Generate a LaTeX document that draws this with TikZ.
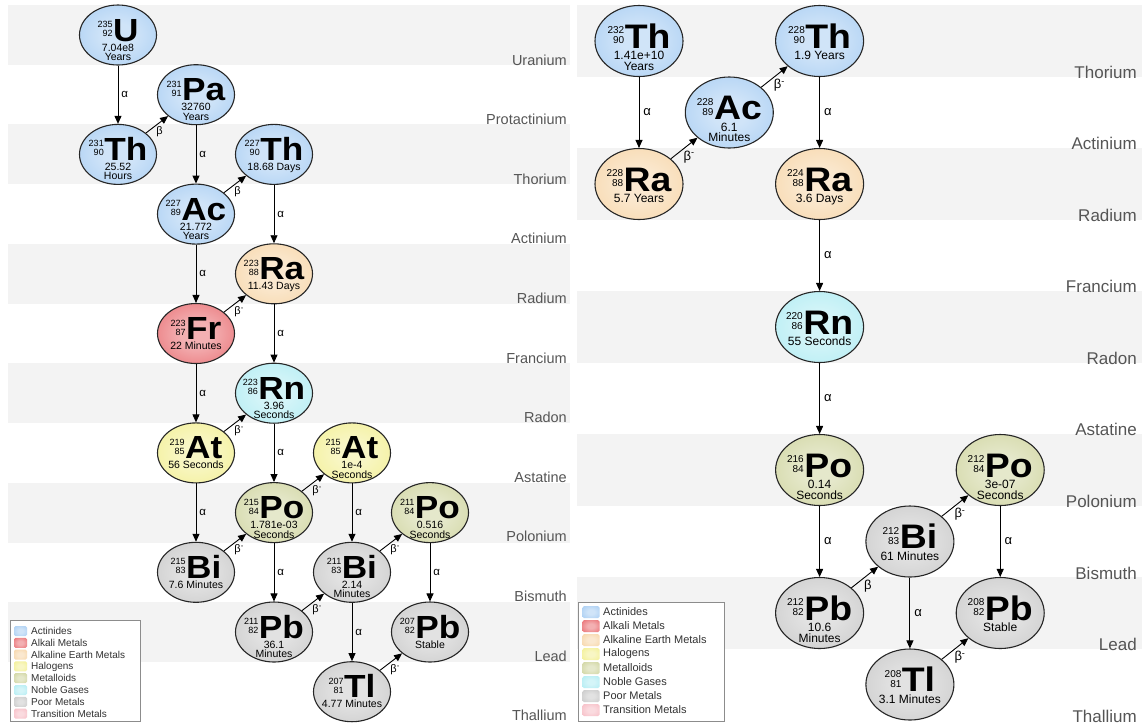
\documentclass[tikz,border=0pt]{standalone}
\usepackage{fontspec}
\setmainfont{Liberation Sans}
\usepackage{graphicx}
\usetikzlibrary{shapes.geometric,arrows.meta}

\definecolor{cActin}{RGB}{150,195,240}
\definecolor{cAlkali}{RGB}{228,80,85}
\definecolor{cAlkEarth}{RGB}{245,205,150}
\definecolor{cHalo}{RGB}{240,236,125}
\definecolor{cMetal}{RGB}{198,204,140}
\definecolor{cNoble}{RGB}{160,232,240}
\definecolor{cPoor}{RGB}{190,190,190}
\definecolor{cTrans}{RGB}{245,175,185}
\definecolor{labgray}{RGB}{85,85,85}
\definecolor{legtext}{RGB}{50,50,50}
\definecolor{bandgray}{RGB}{243,243,243}

\colorlet{isoin}{white}
\colorlet{isoout}{gray}
\pgfdeclareradialshading[isoin,isoout]{isoshade}{\pgfpoint{0bp}{0bp}}{color(0bp)=(isoin); color(10bp)=(isoin); color(50bp)=(isoout)}

\newlength\nucraise
\newcommand\nuc[3]{\raisebox{\nucraise}{\lineskiplimit=0pt\lineskip=1pt\numf\begin{tabular}[b]{@{}r@{}}#1\\#2\end{tabular}}\kern0.5pt\scalebox{1.1}[1]{\symf #3}}
\newcommand\isobox[4]{\makebox[0pt]{\raisebox{0pt}[\isoH][0pt]{\vtop{\baselineskip=\isoB\relax\lineskiplimit=-40pt\lineskip=0pt\halign{\hfil##\hfil\cr\nuc{#1}{#2}{#3}\cr\noalign{\kern\isoG}#4\cr}}}}}
\newcommand\setL{\fontsize{10.5}{10.5}\selectfont\def\symf{\fontsize{32}{32}\selectfont\bfseries}\def\numf{\fontsize{9}{9}\selectfont}\setlength\nucraise{4.5pt}\def\isoH{12pt}\def\isoB{9.5pt}\def\isoG{0.5pt}}
\newcommand\setR{\fontsize{12}{12}\selectfont\def\symf{\fontsize{34}{34}\selectfont\bfseries}\def\numf{\fontsize{10}{10}\selectfont}\setlength\nucraise{4.5pt}\def\isoH{14pt}\def\isoB{10.5pt}\def\isoG{1pt}}
\newcommand\bm{β\textsuperscript{-}}

\begin{document}
\begin{tikzpicture}[x=1pt,y=-1pt,
  iso/.style={ellipse, draw=black!85, line width=1.1pt, inner sep=0pt, shade, shading=isoshade},
  isoL/.style={iso, minimum width=77pt, minimum height=60pt, font=\setL},
  isoR/.style={iso, minimum width=88pt, minimum height=71pt, font=\setR},
  cat/.style={/utils/exec={\colorlet{isoin}{#1!45!white}\colorlet{isoout}{#1}}},
  arr/.style={draw=black, line width=0.9pt, -{Triangle[length=8pt,width=7pt]}},
  aL/.style={midway, right, inner sep=3pt, font=\fontsize{11.5}{12}\selectfont},
  bL/.style={midway, anchor=north west, inner sep=0pt, xshift=-1pt, yshift=-2pt, font=\fontsize{11}{12}\selectfont},
  aR/.style={midway, right, inner sep=4pt, font=\fontsize{13}{14}\selectfont},
  bR/.style={midway, anchor=north west, inner sep=0pt, xshift=-1pt, yshift=-2pt, font=\fontsize{13}{14}\selectfont},
  elabL/.style={anchor=east, inner sep=0pt, text=labgray, font=\fontsize{14.5}{15}\selectfont},
  elabR/.style={anchor=east, inner sep=0pt, text=labgray, font=\fontsize{17}{18}\selectfont},
  swatch/.style={rounded corners=1.5pt, inner sep=0pt, shade, shading=isoshade},
  legbox/.style={draw=black!45, fill=white, line width=0.6pt, anchor=north west, inner sep=0pt},
  legL/.style={anchor=west, inner sep=0pt, text=legtext, font=\fontsize{10}{10}\selectfont},
  legR/.style={anchor=west, inner sep=0pt, text=legtext, font=\fontsize{11}{11}\selectfont}
]
\useasboundingbox (0,0) rectangle (1142,724);
\fill[white] (0,0) rectangle (1142,724);

% background bands
\foreach \r in {0,2,4,6,8,10}
  \fill[bandgray] (8,{5+59.7*\r}) rectangle (570,{65+59.7*\r});
\foreach \r in {0,2,4,6,8}
  \fill[bandgray] (577,{5.25+71.5*\r}) rectangle (1142,{76.75+71.5*\r});

% row labels
\foreach \n [count=\i from 0] in {Uranium,Protactinium,Thorium,Actinium,Radium,Francium,Radon,Astatine,Polonium,Bismuth,Lead,Thallium}
  \node[elabL] (L\n) at (567,{60+59.6*\i}) {\n};
\foreach \n [count=\i from 0] in {Thorium,Actinium,Radium,Francium,Radon,Astatine,Polonium,Bismuth,Lead,Thallium}
  \node[elabR] (R\n) at (1137,{72+71.56*\i}) {\n};

% ---------- left chain (U-235) ----------
\node[isoL, cat=cActin] (U235) at (118,35) {\isobox{235}{92}{U}{7.04e8\cr Years}};
\node[isoL, cat=cActin] (Pa231) at (196,94.7) {\isobox{231}{91}{Pa}{32760\cr Years}};
\node[isoL, cat=cActin] (Th231) at (118,154.4) {\isobox{231}{90}{Th}{25.52\cr Hours}};
\node[isoL, cat=cActin] (Th227) at (274,154.4) {\isobox{227}{90}{Th}{18.68 Days}};
\node[isoL, cat=cActin] (Ac227) at (196,214.1) {\isobox{227}{89}{Ac}{21.772\cr Years}};
\node[isoL, cat=cAlkEarth] (Ra223) at (274,273.8) {\isobox{223}{88}{Ra}{11.43 Days}};
\node[isoL, cat=cAlkali] (Fr223) at (196,333.5) {\isobox{223}{87}{Fr}{22 Minutes}};
\node[isoL, cat=cNoble] (Rn223) at (274,393.2) {\isobox{223}{86}{Rn}{3.96\cr Seconds}};
\node[isoL, cat=cHalo] (At219) at (196,452.9) {\isobox{219}{85}{At}{56 Seconds}};
\node[isoL, cat=cHalo] (At215) at (352,452.9) {\isobox{215}{85}{At}{1e-4\cr Seconds}};
\node[isoL, cat=cMetal] (Po215) at (274,512.6) {\isobox{215}{84}{Po}{1.781e-03\cr Seconds}};
\node[isoL, cat=cMetal] (Po211) at (430,512.6) {\isobox{211}{84}{Po}{0.516\cr Seconds}};
\node[isoL, cat=cPoor] (Bi215) at (196,572.3) {\isobox{215}{83}{Bi}{7.6 Minutes}};
\node[isoL, cat=cPoor] (Bi211) at (352,572.3) {\isobox{211}{83}{Bi}{2.14\cr Minutes}};
\node[isoL, cat=cPoor] (Pb211) at (274,632) {\isobox{211}{82}{Pb}{36.1\cr Minutes}};
\node[isoL, cat=cPoor] (Pb207) at (430,632) {\isobox{207}{82}{Pb}{Stable}};
\node[isoL, cat=cPoor] (Tl207) at (352,691.7) {\isobox{207}{81}{Tl}{4.77 Minutes}};

\draw[arr] (U235) -- node[aL]{α} (Th231);
\draw[arr] (Pa231) -- node[aL]{α} (Ac227);
\draw[arr] (Th227) -- node[aL]{α} (Ra223);
\draw[arr] (Ac227) -- node[aL]{α} (Fr223);
\draw[arr] (Ra223) -- node[aL]{α} (Rn223);
\draw[arr] (Fr223) -- node[aL]{α} (At219);
\draw[arr] (Rn223) -- node[aL]{α} (Po215);
\draw[arr] (At219) -- node[aL]{α} (Bi215);
\draw[arr] (At215) -- node[aL]{α} (Bi211);
\draw[arr] (Po215) -- node[aL]{α} (Pb211);
\draw[arr] (Po211) -- node[aL]{α} (Pb207);
\draw[arr] (Bi211) -- node[aL]{α} (Tl207);

\draw[arr] (Th231) -- node[bL]{β} (Pa231);
\draw[arr] (Ac227) -- node[bL]{β} (Th227);
\draw[arr] (Fr223) -- node[bL]{\bm} (Ra223);
\draw[arr] (At219) -- node[bL]{\bm} (Rn223);
\draw[arr] (Po215) -- node[bL]{\bm} (At215);
\draw[arr] (Bi215) -- node[bL]{\bm} (Po215);
\draw[arr] (Pb211) -- node[bL]{\bm} (Bi211);
\draw[arr] (Bi211) -- node[bL]{\bm} (Po211);
\draw[arr] (Tl207) -- node[bL]{\bm} (Pb207);

% ---------- right chain (Th-232) ----------
\node[isoR, cat=cActin] (Th232) at (639,41) {\isobox{232}{90}{Th}{1.41e+10\cr Years}};
\node[isoR, cat=cActin] (Ac228) at (729.3,112.5) {\isobox{228}{89}{Ac}{6.1\cr Minutes}};
\node[isoR, cat=cActin] (Th228) at (819.6,41) {\isobox{228}{90}{Th}{1.9 Years}};
\node[isoR, cat=cAlkEarth] (Ra228) at (639,184) {\isobox{228}{88}{Ra}{5.7 Years}};
\node[isoR, cat=cAlkEarth] (Ra224) at (819.6,184) {\isobox{224}{88}{Ra}{3.6 Days}};
\node[isoR, cat=cNoble] (Rn220) at (819.6,327) {\isobox{220}{86}{Rn}{55 Seconds}};
\node[isoR, cat=cMetal] (Po216) at (819.6,470) {\isobox{216}{84}{Po}{0.14\cr Seconds}};
\node[isoR, cat=cMetal] (Po212) at (1000.2,470) {\isobox{212}{84}{Po}{3e-07\cr Seconds}};
\node[isoR, cat=cPoor] (Bi212) at (909.9,541.5) {\isobox{212}{83}{Bi}{61 Minutes}};
\node[isoR, cat=cPoor] (Pb212) at (819.6,613) {\isobox{212}{82}{Pb}{10.6\cr Minutes}};
\node[isoR, cat=cPoor] (Pb208) at (1000.2,613) {\isobox{208}{82}{Pb}{Stable}};
\node[isoR, cat=cPoor] (Tl208) at (909.9,684.5) {\isobox{208}{81}{Tl}{3.1 Minutes}};

\draw[arr] (Th232) -- node[aR]{α} (Ra228);
\draw[arr] (Th228) -- node[aR]{α} (Ra224);
\draw[arr] (Ra224) -- node[aR]{α} (Rn220);
\draw[arr] (Rn220) -- node[aR]{α} (Po216);
\draw[arr] (Po216) -- node[aR]{α} (Pb212);
\draw[arr] (Po212) -- node[aR]{α} (Pb208);
\draw[arr] (Bi212) -- node[aR]{α} (Tl208);

\draw[arr] (Ra228) -- node[bR]{\bm} (Ac228);
\draw[arr] (Ac228) -- node[bR]{\bm} (Th228);
\draw[arr] (Pb212) -- node[bR]{β} (Bi212);
\draw[arr] (Bi212) -- node[bR]{\bm} (Po212);
\draw[arr] (Tl208) -- node[bR]{\bm} (Pb208);

% ---------- legends ----------
\node[legbox, minimum width=130pt, minimum height=101pt] (legendL) at (10,620) {};
\foreach \t/\c [count=\i from 0] in {Actinides/cActin,Alkali Metals/cAlkali,Alkaline Earth Metals/cAlkEarth,Halogens/cHalo,Metalloids/cMetal,Noble Gases/cNoble,Poor Metals/cPoor,Transition Metals/cTrans}{
  \node[swatch, cat=\c, minimum width=13pt, minimum height=10pt] (swL\i) at (20.5,{631+11.8*\i}) {};
  \node[legL] (txL\i) at (31,{631+11.8*\i}) {\t};
}
\node[legbox, minimum width=146pt, minimum height=119pt] (legendR) at (578,602) {};
\foreach \t/\c [count=\i from 0] in {Actinides/cActin,Alkali Metals/cAlkali,Alkaline Earth Metals/cAlkEarth,Halogens/cHalo,Metalloids/cMetal,Noble Gases/cNoble,Poor Metals/cPoor,Transition Metals/cTrans}{
  \node[swatch, cat=\c, minimum width=17pt, minimum height=12pt] (swR\i) at (591,{612+14*\i}) {};
  \node[legR] (txR\i) at (603,{612+14*\i}) {\t};
}
\end{tikzpicture}
\end{document}
